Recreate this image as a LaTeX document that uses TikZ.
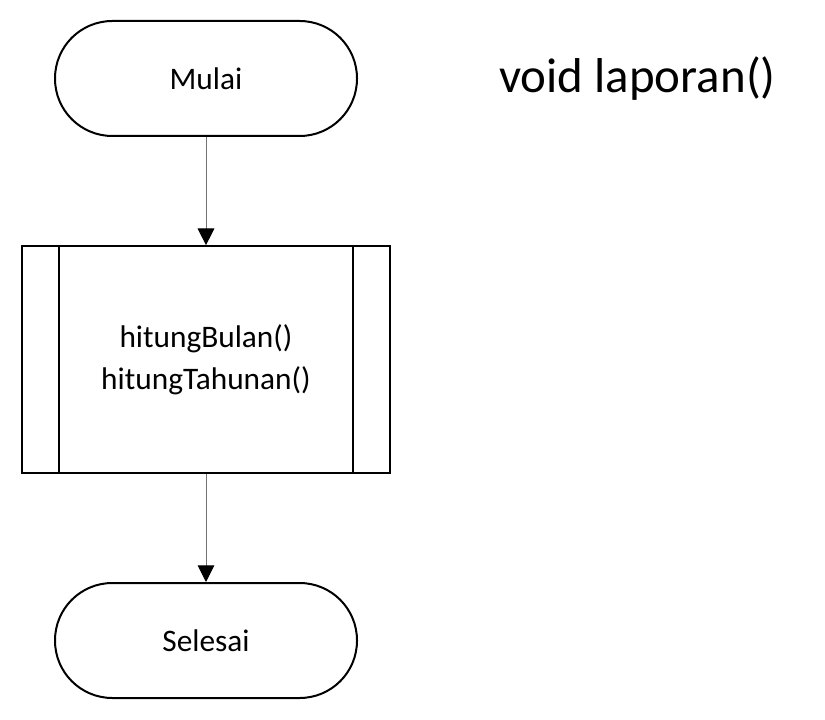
\documentclass[tikz,border=0pt]{standalone}
\usepackage{fontspec}
\setmainfont{Carlito}
\usetikzlibrary{arrows.meta}

\begin{document}
\begin{tikzpicture}[x=0.75pt,y=-0.75pt]
        % Define styles
        \tikzset{
            terminal/.style={rectangle, rounded corners=43pt, draw, line width=1.5pt, minimum width=226.5pt, minimum height=86.25pt, font=\fontsize{23.5}{31.5}\selectfont},
            subprocess/.style={rectangle, draw, line width=1.5pt, minimum width=276pt, minimum height=170pt, align=center, font=\fontsize{23.5}{31.5}\selectfont},
            arrow/.style={-{Triangle[width=12.5pt,length=12.5pt,color=black,fill=black]}, draw=black!55, line width=0.75pt}
        }
        \useasboundingbox (0,0) rectangle (825,720);

        % Nodes
        \node[terminal] (mulai) at (206,78.5) {Mulai};
        \node[subprocess] (hitung) at (206,359.5) {hitungBulan()\\hitungTahunan()};
        \node[terminal] (selesai) at (206,640.5) {Selesai};
        \node[anchor=base, font=\fontsize{36.7}{44}\selectfont] (judul) at (637.5,93) {void laporan()};

        % Side bars of the subprocess
        \draw[line width=1.5pt] ([xshift=28.5pt]hitung.north west) -- ([xshift=28.5pt]hitung.south west);
        \draw[line width=1.5pt] ([xshift=-28.5pt]hitung.north east) -- ([xshift=-28.5pt]hitung.south east);

        % Arrows
        \draw[arrow] (mulai) -- (hitung);
        \draw[arrow] (hitung) -- (selesai);
    \end{tikzpicture}
\end{document}
